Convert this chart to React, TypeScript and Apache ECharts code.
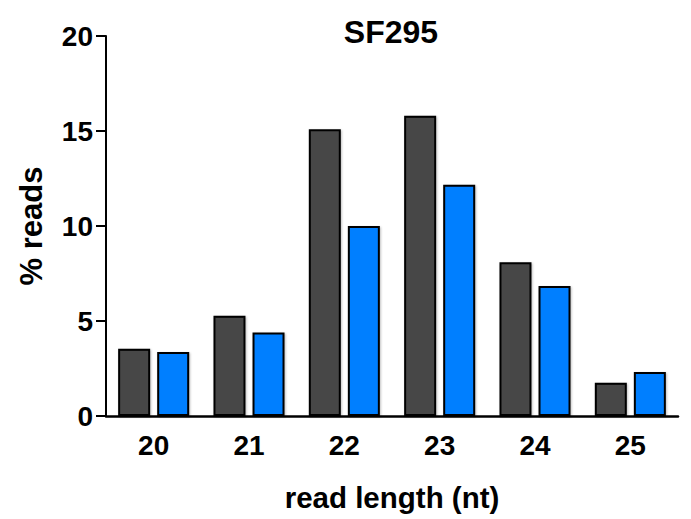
import React, { useEffect, useRef } from "react";
import * as echarts from "echarts";

const categories = ["20", "21", "22", "23", "24", "25"];
const seriesDark = [3.54, 5.28, 15.09, 15.8, 8.09, 1.75];
const seriesBlue = [3.37, 4.4, 10.0, 12.17, 6.84, 2.32];
const yTicks = { min: 0, max: 20, interval: 5 };

const FONT = "'Liberation Sans', Arial, sans-serif";

export default function App() {
  const ref = useRef<HTMLDivElement>(null);
  useEffect(() => {
    document.body.style.margin = "0";
    if (!ref.current) return;
    const chart = echarts.init(ref.current, undefined, { renderer: "svg" });
    const barStyle = (color: string) => ({
      color,
      borderColor: "#000",
      borderWidth: 2,
      shadowColor: "rgba(0,0,0,0.25)",
      shadowBlur: 2,
      shadowOffsetX: 1,
      shadowOffsetY: 1,
    });
    chart.setOption({
      animation: false,
      backgroundColor: "#fff",
      title: {
        text: "SF295",
        left: 391,
        top: 16,
        padding: 0,
        textAlign: "center",
        textStyle: { fontFamily: FONT, fontWeight: "bold", fontSize: 32, color: "#000" },
      },
      grid: { left: 106, right: 13, top: 36, bottom: 103, containLabel: false },
      xAxis: {
        type: "category",
        data: categories,
        name: "read length (nt)",
        nameLocation: "middle",
        nameGap: 66,
        nameTextStyle: { fontFamily: FONT, fontWeight: "bold", fontSize: 29.5, color: "#000" },
        axisLine: { lineStyle: { color: "#000", width: 2.5 } },
        axisTick: { alignWithLabel: true, length: 10, lineStyle: { color: "#000", width: 2 } },
        axisLabel: { margin: 15, fontFamily: FONT, fontWeight: "bold", fontSize: 28, color: "#000" },
      },
      yAxis: {
        type: "value",
        min: yTicks.min,
        max: yTicks.max,
        interval: yTicks.interval,
        name: "% reads",
        nameLocation: "middle",
        nameGap: 59,
        nameTextStyle: { fontFamily: FONT, fontWeight: "bold", fontSize: 31, color: "#000" },
        splitLine: { show: false },
        axisLine: { show: true, lineStyle: { color: "#000", width: 2 } },
        axisTick: { show: true, length: 10, lineStyle: { color: "#000", width: 2 } },
        axisLabel: { margin: 13, fontFamily: FONT, fontWeight: "bold", fontSize: 28, color: "#000" },
      },
      series: [
        { type: "bar", data: seriesDark, barWidth: 32, barGap: "22%", itemStyle: barStyle("#474747") },
        { type: "bar", data: seriesBlue, barWidth: 32, barGap: "22%", itemStyle: barStyle("#007fff") },
      ],
    });
    return () => chart.dispose();
  }, []);
  return <div ref={ref} style={{ width: 691, height: 519 }} />;
}
